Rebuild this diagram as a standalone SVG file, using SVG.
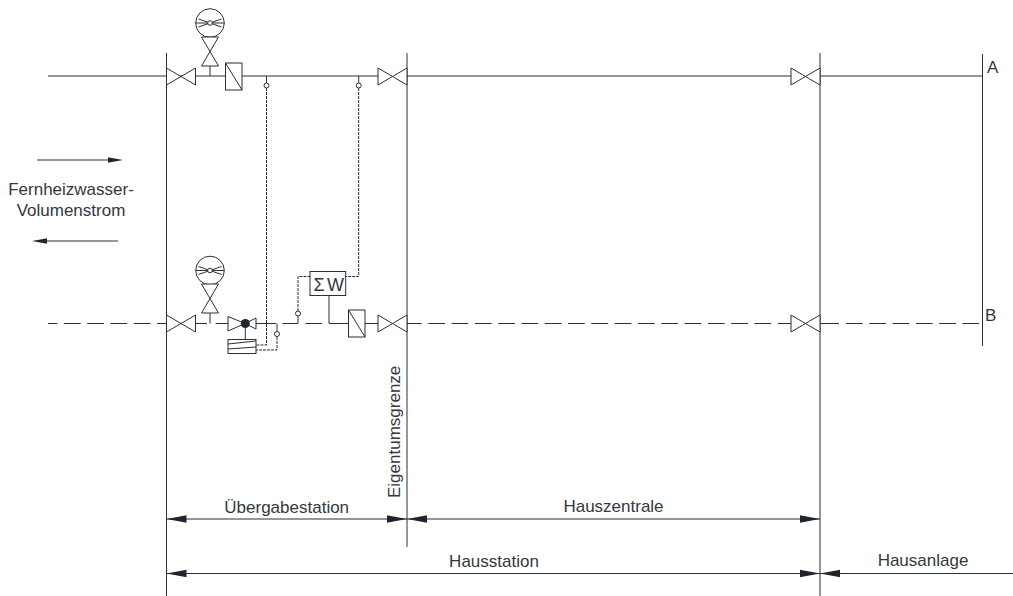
<svg xmlns="http://www.w3.org/2000/svg" width="1013" height="596" viewBox="0 0 1013 596">
<style>
.l{fill:none;stroke:#2b3036;stroke-width:1}
.s{fill:#fff;stroke:#2b3036;stroke-width:1}
.d{fill:none;stroke:#2b3036;stroke-width:1;stroke-dasharray:3 1}
.p{fill:none;stroke:#2b3036;stroke-width:1;stroke-dasharray:16.7 6.6}
.a{fill:#1f262d;stroke:none}
text{font-family:"Liberation Sans",Arial,sans-serif;font-size:17px;fill:#33383e}
</style>
<defs>
<g id="hv"><path class="s" d="M-14.5-8.5V8.5L14.5-8.5V8.5Z"/></g>
<g id="vv"><path class="s" d="M-8.5-14.5H8.5L-8.5 14.5H8.5Z"/></g>
<g id="meter"><circle class="s" cx="0" cy="0" r="14.3"/><path class="l" d="M-14.3 0H14.3M-11.500-4 11.500 4M-11.500 4 11.500-4"/><circle class="s" cx="0" cy="0" r="2.300"/></g>
<g id="box"><rect class="s" x="-8" y="-13.5" width="16.5" height="27"/><path class="l" d="M-8-13.5 8.5 13.5"/></g>
<circle id="dot" class="s" r="2.5"/>
<path id="ar" class="a" d="M0 0 20-3.800V3.800Z"/>
<path id="al" class="a" d="M0 0-20-3.800V3.800Z"/>
<path id="sr" class="a" d="M0 0 15-2.800V2.800Z"/>
<path id="sl" class="a" d="M0 0-15-2.800V2.800Z"/>
</defs>
<g id="connectors">
<path class="l" d="M166.500 53V596M407 53V547M820 53V596M982.500 54V346"/>
<path class="l" d="M48 76H225M242 76H378M407 76H791M820 76H982"/>
<path class="l" d="M210 66V76"/>
<path class="p" stroke-dashoffset="7.4" style="stroke-dashoffset:7.4" d="M48 323.500H166"/>
<path class="l" d="M195 323.500H207M215.700 323.500H228M210 313V323.500M256 323.500H276M282.500 323.500H298M305.500 323.500H322M329 323.500H349M365 323.500H378"/>
<path class="p" style="stroke-dashoffset:2" d="M407 323.500H791"/>
<path class="l" d="M820 323.500H839"/>
<path class="p" d="M846 323.500H982"/>
<path class="d" d="M266.500 88V345H256"/>
<path class="l" d="M266.500 76V83"/>
<path class="d" d="M358.700 88V276.500H345.700"/>
<path class="l" d="M358.700 76V83"/>
<path class="d" d="M298 311V276.500H310"/>
<path class="l" d="M298 316V323.500"/>
<path class="d" d="M277 337V350H256"/>
<path class="l" d="M277 323.500V331.500"/>
<path class="l" d="M329 295V323.500M245.300 323.500V339"/>
<path class="l" d="M37 160H109"/>
<path class="l" d="M47 241H118"/>
<path class="l" d="M166.500 519H407M407 519H820M166.500 573.500H820M820 573.500H1013"/>
<use href="#sl" x="123" y="160"/>
<use href="#sr" x="32" y="241"/>
<use href="#ar" x="166.500" y="519"/>
<use href="#al" x="407" y="519"/>
<use href="#ar" x="407" y="519"/>
<use href="#al" x="820" y="519"/>
<use href="#ar" x="166.500" y="573.500"/>
<use href="#al" x="820" y="573.500"/>
<use href="#ar" x="820" y="573.500"/>
</g>
<g id="valve-a1"><use href="#hv" x="181" y="76.500"/></g>
<g id="valve-a2"><use href="#hv" x="392.500" y="76.500"/></g>
<g id="valve-a3"><use href="#hv" x="805.500" y="76.500"/></g>
<g id="valve-b1"><use href="#hv" x="181" y="323.500"/></g>
<g id="valve-b2"><use href="#hv" x="392.500" y="323.500"/></g>
<g id="valve-b3"><use href="#hv" x="805.500" y="323.500"/></g>
<g id="meter-a"><use href="#meter" x="210" y="23"/><use href="#vv" x="210" y="51.500"/></g>
<g id="meter-b"><use href="#meter" x="210" y="270.500"/><use href="#vv" x="210" y="298.500"/></g>
<g id="check-a"><use href="#box" x="233.500" y="76.500"/></g>
<g id="check-b"><use href="#box" x="356.500" y="323.500"/></g>
<g id="dots-group"><use href="#dot" x="266.500" y="85.500"/><use href="#dot" x="358.700" y="85.500"/><use href="#dot" x="298" y="313.500"/><use href="#dot" x="277" y="334"/></g>
<g id="control-valve">
<path class="s" d="M228 316.500 245 323.500 228 331ZM256 318V329L245 323.500Z"/>
<circle cx="245.300" cy="323.500" r="4.500" fill="#1f262d"/>
<rect class="s" x="228" y="339.500" width="28" height="14"/>
<path class="l" d="M228 344 256 341M228 349 256 347"/>
</g>
<g id="sum-w">
<rect class="s" x="310" y="271.500" width="35.700" height="24"/>
<text x="319" y="291" style="font-size:18px" text-anchor="middle">Σ</text>
<text x="335.500" y="291" style="font-size:18px" text-anchor="middle">W</text>
</g>
<g id="labels">
<text x="71" y="195" text-anchor="middle">Fernheizwasser-</text>
<text x="71" y="216" text-anchor="middle">Volumenstrom</text>
<text x="987" y="73">A</text>
<text x="985" y="321">B</text>
<text transform="translate(400 498) rotate(-90)">Eigentumsgrenze</text>
<text x="286.700" y="513" text-anchor="middle">Übergabestation</text>
<text x="613.500" y="512" text-anchor="middle">Hauszentrale</text>
<text x="494" y="567" text-anchor="middle">Hausstation</text>
<text x="923" y="566" text-anchor="middle">Hausanlage</text>
</g>
</svg>
